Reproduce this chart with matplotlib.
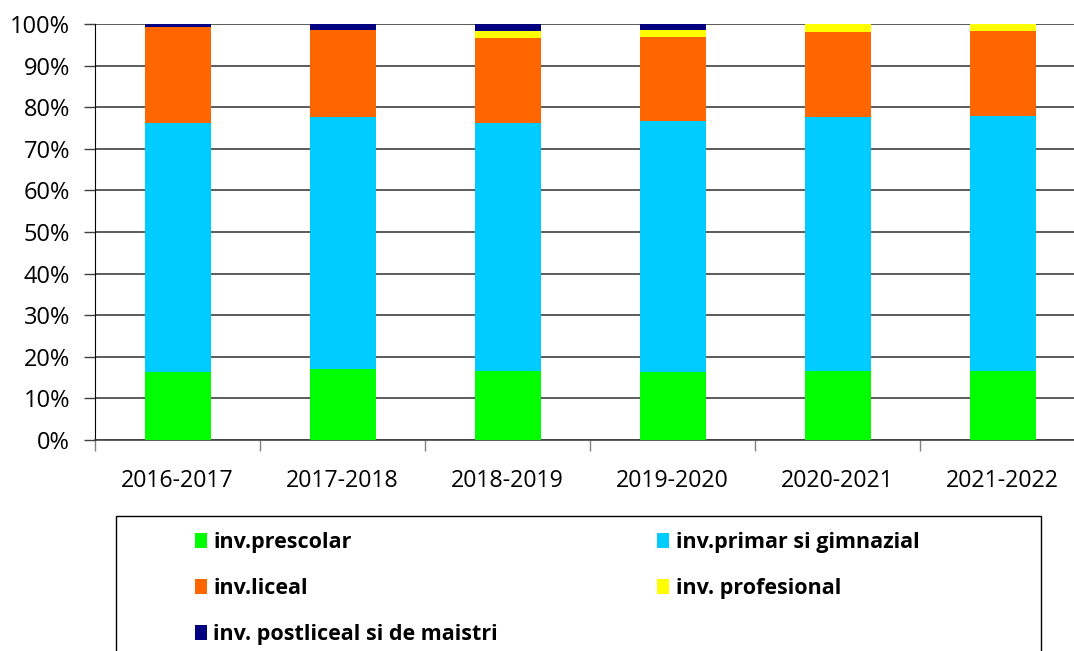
import numpy as np
import matplotlib
matplotlib.use("Agg")
import matplotlib.pyplot as plt
from matplotlib.patches import Rectangle
from matplotlib.ticker import PercentFormatter

plt.rcParams['font.family'] = ['Open Sans', 'DejaVu Sans']

years = ["2016-2017", "2017-2018", "2018-2019", "2019-2020", "2020-2021", "2021-2022"]

# share of pupils by level, percent
prescolar = [16.4, 17.0, 16.5, 16.4, 16.7, 16.6]
primar = [59.9, 60.55, 59.6, 60.2, 60.85, 61.2]
liceal = [22.9, 21.0, 20.5, 20.2, 20.6, 20.6]
profesional = [0.0, 0.0, 1.6, 1.7, 1.85, 1.6]
postliceal = [0.8, 1.45, 1.7, 1.4, 0.0, 0.0]

labels = ["inv.prescolar", "inv.primar si gimnazial", "inv.liceal",
          "inv. profesional", "inv. postliceal si de maistri"]
colors = ["#00ff00", "#00ccff", "#ff6600", "#ffff00", "#000080"]

W, H = 1074, 651
fig = plt.figure(figsize=(W / 100, H / 100), dpi=100)
ax = fig.add_axes([95 / W, (H - 440) / H, 990 / W, 416 / H])

x = np.arange(len(years))
series = [prescolar, primar, liceal, profesional, postliceal]
bottom = np.zeros(len(years))
handles = []
for vals, col, lab in zip(series, colors, labels):
    b = ax.bar(x, vals, width=0.4, bottom=bottom, color=col, label=lab, zorder=3)
    handles.append(b)
    bottom += np.array(vals)

ax.set_xlim(-0.5, len(years) - 0.5)
ax.set_ylim(0, 100)
ax.set_yticks(np.arange(0, 101, 10))
ax.yaxis.set_major_formatter(PercentFormatter(decimals=0))
ax.grid(axis='y', color='#404040', linewidth=1.2, zorder=0)

# category labels centred, tick marks on the boundaries
ax.set_xticks(x)
ax.set_xticklabels(years)
ax.set_xticks(np.arange(-0.5, len(years), 1), minor=True)
ax.tick_params(axis='x', which='major', length=0, pad=21, labelsize=16.7)
ax.tick_params(axis='x', which='minor', length=8, width=1, color='#808080')
ax.tick_params(axis='y', length=8, width=1, color='#404040', labelsize=17, pad=10)

for s in ['top', 'right']:
    ax.spines[s].set_visible(False)
ax.spines['left'].set_color('black')
ax.spines['bottom'].set_color('#404040')
ax.spines['bottom'].set_linewidth(1.2)

# legend box drawn separately, entries laid out row by row
fig.patches.append(Rectangle((116 / W, -10 / H), 925 / W, (H - 516 + 10) / H,
                             transform=fig.transFigure, fill=False,
                             edgecolor='black', linewidth=1))
order = [0, 2, 4, 1, 3]
leg = fig.legend(handles=[handles[i] for i in order], labels=[labels[i] for i in order],
                 loc='upper left', bbox_to_anchor=(195 / W, (H - 532) / H),
                 ncol=2, frameon=False,
                 prop={'weight': 'bold', 'size': 15.5},
                 handlelength=0.55, handleheight=0.65, handletextpad=0.3,
                 labelspacing=1.16, columnspacing=7.4, borderpad=0, borderaxespad=0)

fig.savefig("out.png", dpi=100)
